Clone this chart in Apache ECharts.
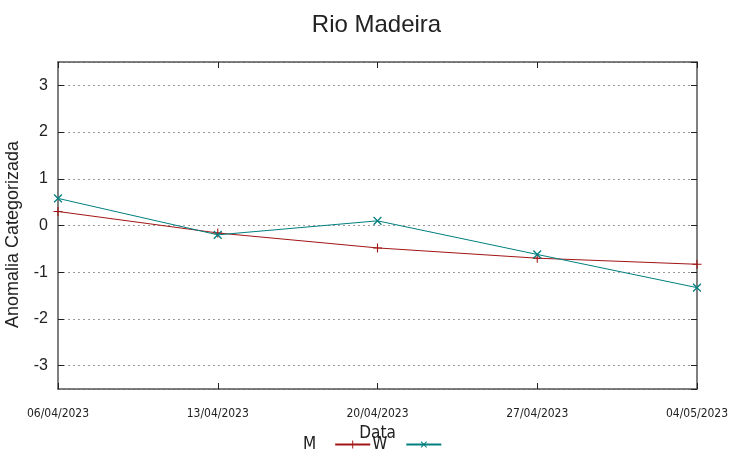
<!DOCTYPE html>
<html>
<head>
<meta charset="utf-8">
<script src="https://cdn.jsdelivr.net/npm/echarts@6/dist/echarts.min.js"></script>
<style>html,body{margin:0;padding:0;background:#fff}#c{width:753px;height:459px}</style>
</head>
<body>
<div id="c"></div>
<script>
const categories = ['06/04/2023', '13/04/2023', '20/04/2023', '27/04/2023', '04/05/2023'];
const seriesM = [0.30, -0.16, -0.48, -0.70, -0.83];
const seriesW = [0.58, -0.20, 0.10, -0.62, -1.33];
const yMin = -3.5, yMax = 3.5;

const plusPath = 'path://M4.4,0H5.6V4.4H10V5.6H5.6V10H4.4V5.6H0V4.4H4.4Z';
const narrow = "'Liberation Sans Narrow','DejaVu Sans Condensed','Liberation Sans',sans-serif";
const frame = {show: true, onZero: false, lineStyle: {color: '#555', width: 1.5}};
const tickIn = {show: true, inside: true, length: 6, lineStyle: {color: '#222', width: 1}};

const chart = echarts.init(document.getElementById('c'));
chart.setOption({
  animation: false,
  backgroundColor: '#fff',
  title: {
    text: 'Rio Madeira', left: 'center', top: 8,
    textStyle: {fontFamily: "'Liberation Sans',Arial,sans-serif", fontSize: 24, fontWeight: 'normal', color: '#222'}
  },
  grid: {left: 58, right: 56, top: 62, bottom: 70, containLabel: false, outerBoundsMode: 'none'},
  legend: {
    bottom: 1, left: 298, align: 'right', itemGap: 1, itemWidth: 35, itemHeight: 10,
    textStyle: {fontFamily: narrow, fontSize: 17, color: '#222', padding: [0, 14, 0, 0]},
    data: ['M', 'W']
  },
  xAxis: [{
    type: 'category', data: categories, boundaryGap: false, position: 'bottom',
    name: 'Data', nameLocation: 'middle', nameGap: 34,
    nameTextStyle: {fontFamily: narrow, fontSize: 17, color: '#222'},
    axisLine: frame, axisTick: tickIn,
    axisLabel: {margin: 19, fontFamily: narrow, fontSize: 12, color: '#222', interval: 0},
    splitLine: {show: false}
  }, {
    type: 'category', data: categories, boundaryGap: false, position: 'top',
    axisLine: frame, axisTick: tickIn, axisLabel: {show: false}, splitLine: {show: false}
  }],
  yAxis: [{
    type: 'value', min: yMin, max: yMax, position: 'left',
    name: 'Anomalia Categorizada', nameLocation: 'middle', nameGap: 36, nameRotate: 90,
    nameTextStyle: {fontFamily: "'Liberation Sans',Arial,sans-serif", fontSize: 18, color: '#222', padding: [0, 18, 0, 0]},
    axisLine: frame, axisTick: tickIn,
    axisLabel: {showMinLabel: false, showMaxLabel: false, margin: 10, fontFamily: "'Liberation Sans',Arial,sans-serif", fontSize: 16, color: '#222'},
    splitLine: {show: true, lineStyle: {color: '#999', type: [2, 3], width: 1}}
  }, {
    type: 'value', min: yMin, max: yMax, position: 'right',
    axisLine: frame, axisTick: tickIn, axisLabel: {show: false}, splitLine: {show: false}
  }],
  series: [{
    name: 'M', type: 'line', data: seriesM, xAxisIndex: 0, yAxisIndex: 0,
    symbol: plusPath, symbolSize: 9, showAllSymbol: true,
    lineStyle: {color: '#a31515', width: 1}, itemStyle: {color: '#a31515'}
  }, {
    name: 'W', type: 'line', data: seriesW, xAxisIndex: 0, yAxisIndex: 0,
    symbol: plusPath, symbolSize: 11, symbolRotate: 45, showAllSymbol: true,
    lineStyle: {color: '#007f7f', width: 1}, itemStyle: {color: '#007f7f'}
  }]
});
</script>
</body>
</html>
